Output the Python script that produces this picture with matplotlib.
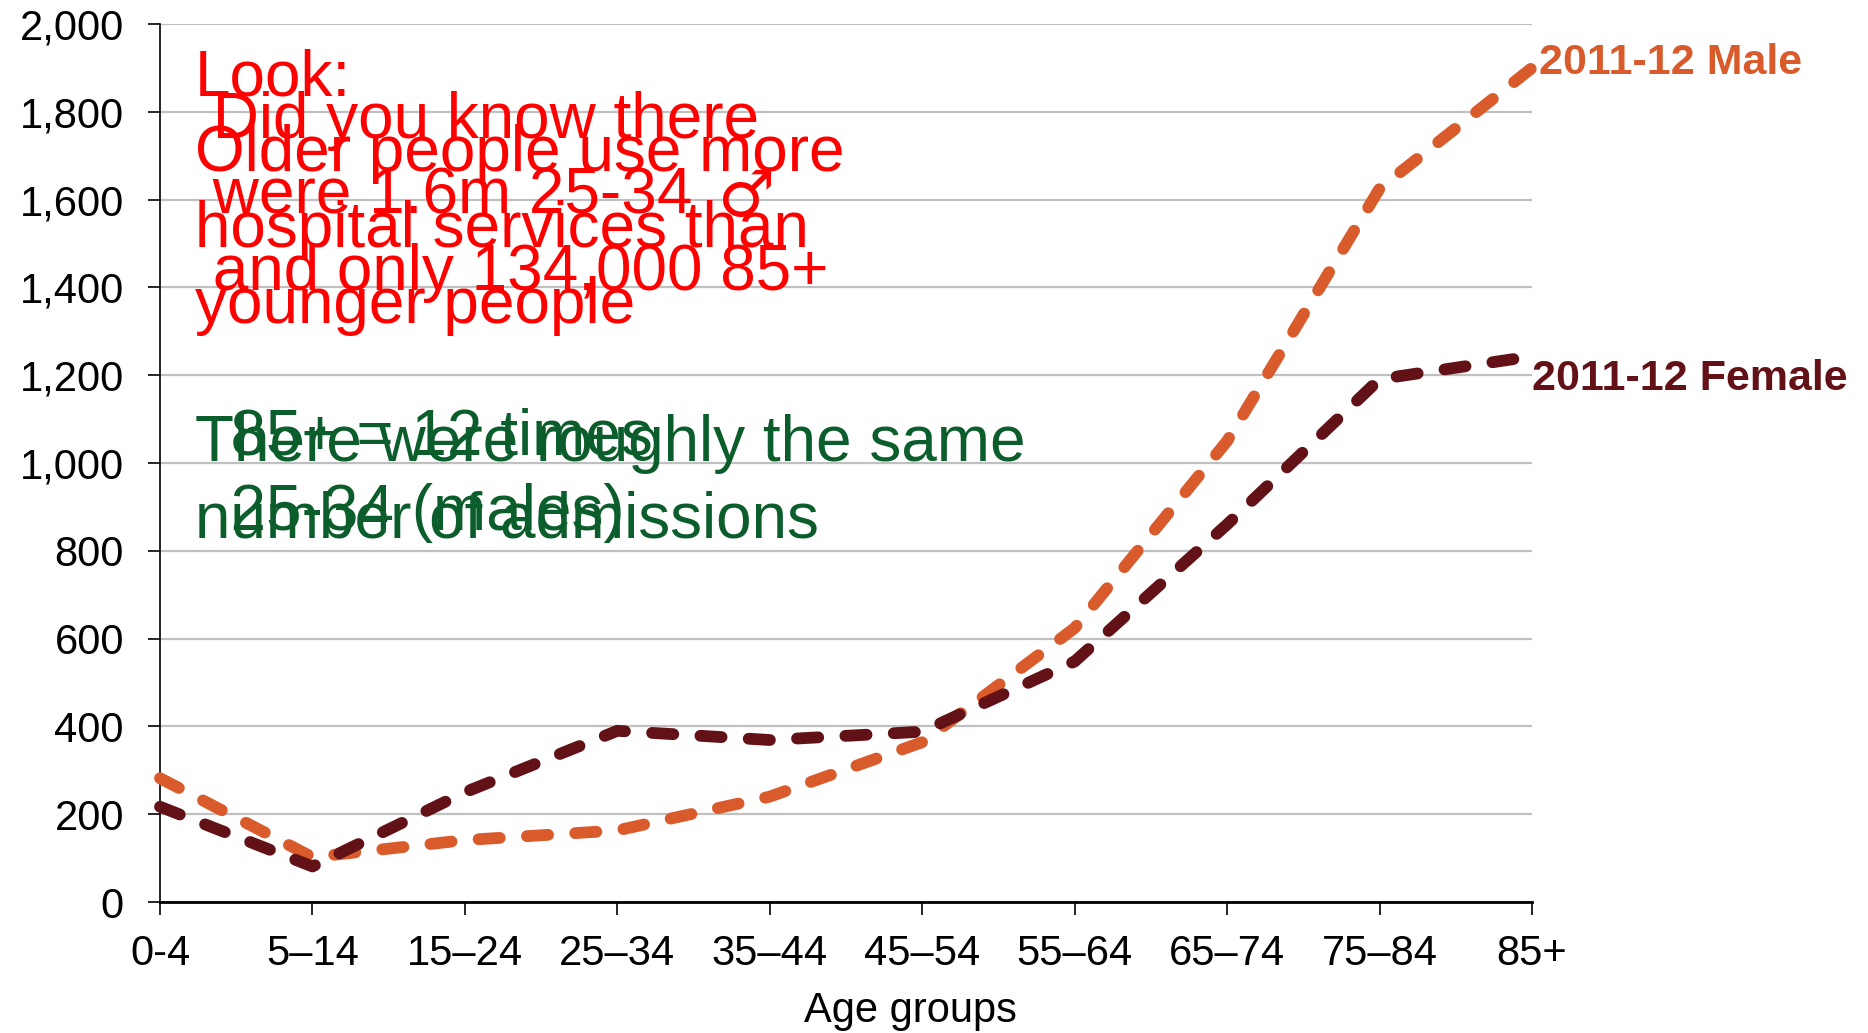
import numpy as np
import matplotlib.pyplot as plt
from matplotlib.ticker import FuncFormatter

plt.rcParams['font.family'] = ['Liberation Sans', 'DejaVu Sans']

# data
age_groups = ['0-4', '5–14', '15–24', '25–34', '35–44', '45–54',
              '55–64', '65–74', '75–84', '85+']
male = [282, 102, 141, 163, 240, 364, 624, 1050, 1625, 1900]
female = [217, 81, 250, 390, 369, 388, 548, 860, 1191, 1243]

red_a = ['Look:', 'Older people use more', 'hospital services than', 'younger people']
red_b = [' Did you know there', ' were 1.6m 25-34 ', ' and only 134,000 85+']
male_sign = '♂'
green_a = ['There were roughly the same', 'number of admissions']
green_b = ['  85+ = 12 times', '  25-34 (males)']

W, H = 1868, 1033
orange = '#D95B2C'
maroon = '#621217'
red = '#FF0000'
green = '#0B5E2C'

fig = plt.figure(figsize=(W / 100, H / 100), dpi=100)
ax = fig.add_axes([160 / W, 1 - 902 / H, (1532 - 160) / W, (902 - 24) / H])

x = np.arange(len(age_groups))
ax.plot(x, male, color=orange, lw=8.5, dashes=(1.8, 2.3),
        dash_capstyle='round', clip_on=False, zorder=3)
ax.plot(x, female, color=maroon, lw=8.5, dashes=(1.8, 2.3),
        dash_capstyle='round', clip_on=False, zorder=4)

ax.set_xlim(0, 9)
ax.set_ylim(0, 2000)
ax.set_yticks(range(0, 2001, 200))
ax.yaxis.set_major_formatter(FuncFormatter(lambda v, p: '{:,.0f}'.format(v)))
ax.set_xticks(x)
ax.set_xticklabels(age_groups)
ax.grid(axis='y', color='#C0C0C0', lw=1.6)
ax.set_axisbelow(True)
for s in ['top', 'right']:
    ax.spines[s].set_visible(False)
ax.spines['left'].set_linewidth(1.2)
ax.spines['bottom'].set_linewidth(2)
ax.tick_params(axis='y', length=9, width=1.2, pad=17, labelsize=30)
ax.tick_params(axis='x', length=9, width=1.2, pad=14, labelsize=30)

fig.text(910 / W, 1 - 1022 / H, 'Age groups', ha='center', va='baseline', fontsize=30)

ax.annotate('2011-12 Male', xy=(9, male[-1]), xytext=(7, -6), textcoords='offset pixels',
            color=orange, fontsize=31, fontweight='bold', va='baseline', annotation_clip=False)
ax.annotate('2011-12 Female', xy=(9, female[-1]), xytext=(0, -34), textcoords='offset pixels',
            color=maroon, fontsize=31, fontweight='bold', va='baseline', annotation_clip=False)

def block(lines, y0, color):
    for i, s in enumerate(lines):
        fig.text(195 / W, 1 - (y0 + 76 * i) / H, s, color=color, fontsize=46, va='baseline')

block(red_a, 95, red)
block(red_b, 138, red)
fig.text(718 / W, 1 - 216 / H, male_sign, color=red, fontsize=46, va='baseline',
         family='DejaVu Sans')
block(green_a, 461, green)
block(green_b, 454, green)

fig.savefig('out.png', dpi=100)
